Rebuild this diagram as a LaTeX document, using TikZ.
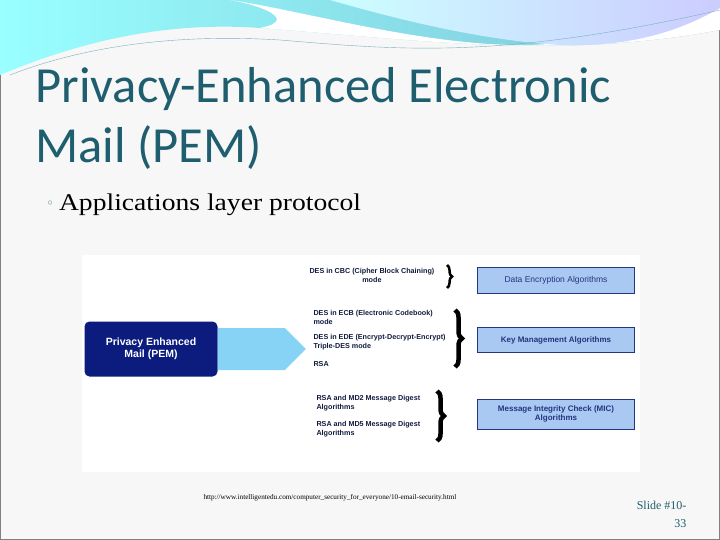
\documentclass[tikz,border=0pt]{standalone}
\usepackage{fontspec}
\setsansfont{Liberation Sans}
\newfontfamily\titlefont{Carlito}
\newfontfamily\bodyfont{Liberation Serif}
\usetikzlibrary{decorations.pathreplacing,shapes.arrows}
\definecolor{titleteal}{HTML}{1E5E6E}
\definecolor{pemblue}{HTML}{0B1C7E}
\definecolor{algfill}{HTML}{A9C8F2}
\definecolor{algline}{HTML}{25357F}
\definecolor{swoosh}{HTML}{7CC3D6}
\tikzset{
  algbox/.style={draw=algline,fill=algfill,minimum width=157pt,align=center,
    font=\sffamily\bfseries\fontsize{8}{9}\selectfont,text=algline},
  item/.style={anchor=north west,align=left,font=\sffamily\bfseries\fontsize{7.2}{8.5}\selectfont,text=algline!50!black},
  bigbrace/.style={decorate,decoration={brace,amplitude=7pt},line width=4.5pt}
}
\begin{document}
\begin{tikzpicture}[x=1pt,y=-1pt]
\useasboundingbox (0,0) rectangle (720,540);
\fill[black!3] (0,0) rectangle (720,540);
\draw[gray] (0.5,0.5) rectangle (719.5,539.5);

% header swoosh
\shade[left color=cyan!40,right color=swoosh] (0,0) -- (720,0) -- (720,30)
  .. controls (560,60) and (420,40) .. (260,28) .. controls (150,20) and (60,50) .. (0,75) -- cycle;
\fill[white] (230,0) .. controls (300,10) and (420,45) .. (520,45) .. controls (580,45) and (650,30) .. (720,5)
  -- (720,30) .. controls (560,60) and (420,40) .. (260,28) .. controls (300,20) and (260,5) .. (230,0);
\shade[left color=cyan!20,right color=blue!20] (330,0) .. controls (400,20) and (480,40) .. (560,45)
  .. controls (640,48) and (690,25) .. (720,8) -- (720,0) -- cycle;
\draw[swoosh!70!gray] (10,75) .. controls (100,40) and (200,35) .. (280,40) .. controls (400,50) and (500,60) .. (720,10);

% title
\node[anchor=west,text=titleteal,align=left,font=\titlefont\fontsize{50.5}{60}\selectfont] (title) at (32,118)
  {Privacy-Enhanced Electronic\\Mail (PEM)};
\node[anchor=west,xscale=1.15,font=\bodyfont\fontsize{24}{26}\selectfont] (bullet) at (55,205) {Applications layer protocol};
\node[text=titleteal!70,font=\fontsize{10}{10}\selectfont] at (50,203) {$\circ$};

% diagram
\fill[white] (82,255) rectangle (640,472);
\node[fill=pemblue,rounded corners=5pt,minimum width=133pt,minimum height=55pt,align=center,
  text=white,font=\sffamily\bfseries\fontsize{10.5}{12}\selectfont] (pem) at (151,349) {Privacy Enhanced\\Mail (PEM)};
\node[single arrow,fill=algfill!80!cyan,minimum height=88pt,minimum width=42pt,single arrow head extend=0pt,
  inner sep=0pt,anchor=tail] (arr) at (pem.east) {};

\node[item,align=center] (cbc) at (306,265) {DES in CBC (Cipher Block Chaining)\\mode};
\node[item] (ecb) at (310,307) {DES in ECB (Electronic Codebook)\\mode};
\node[item] (ede) at (310,331) {DES in EDE (Encrypt-Decrypt-Encrypt)\\Triple-DES mode};
\node[item] (rsa) at (310,358) {RSA};
\node[item] (md2) at (313,392) {RSA and MD2 Message Digest\\Algorithms};
\node[item] (md5) at (313,418) {RSA and MD5 Message Digest\\Algorithms};

\draw[line width=2.5pt,decorate,decoration={brace,amplitude=5pt}] (447,265) -- (447,288);
\draw[bigbrace] (455,310) -- (455,367);
\draw[bigbrace] (437,391) -- (437,441);

\node[algbox,minimum height=26pt,font=\sffamily\fontsize{8.5}{9}\selectfont] (dea) at (556,280) {Data Encryption Algorithms};
\node[algbox,minimum height=25pt] (kma) at (556,340) {Key Management Algorithms};
\node[algbox,minimum height=30pt] (mic) at (556,414) {Message Integrity Check (MIC)\\Algorithms};

% footer
\node[anchor=west,font=\bodyfont\fontsize{7.2}{8}\selectfont] (url) at (200,498)
  {http://www.intelligentedu.com/computer\_security\_for\_everyone/10-email-security.html};
\node[anchor=north east,align=right,text=titleteal,font=\bodyfont\fontsize{12}{18}\selectfont] (slide) at (690,498) {Slide \#10-\\33};
\end{tikzpicture}
\end{document}
